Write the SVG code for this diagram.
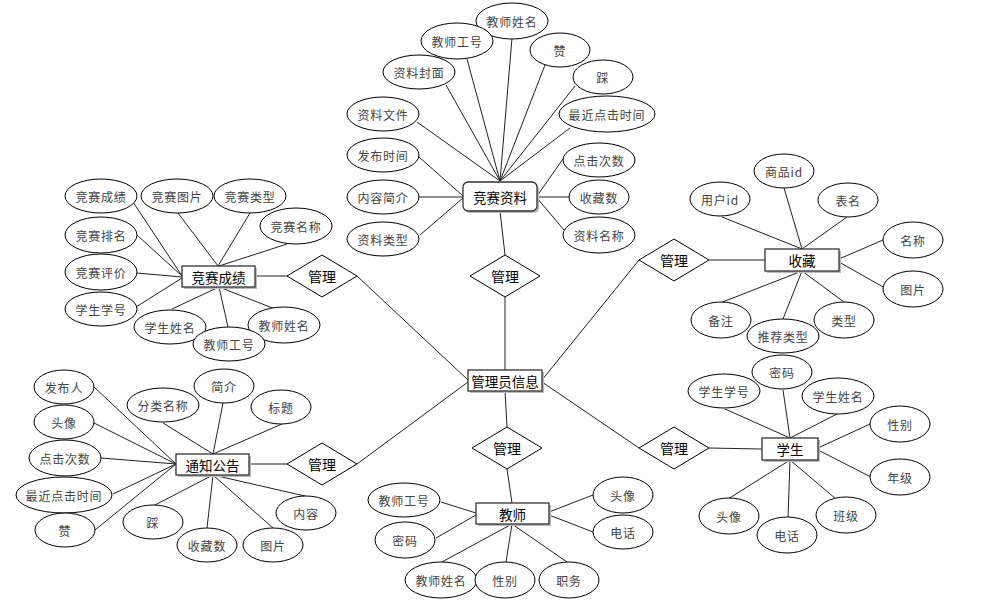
<svg xmlns="http://www.w3.org/2000/svg" width="982" height="606" viewBox="0 0 982 606">
<style>
.a{fill:#fff;stroke:#000;stroke-width:1}
.e{fill:#fff;stroke:#333;stroke-width:1.3}
.sh{fill:#bbb}
.r{fill:#fff;stroke:#000;stroke-width:1}
.t{font-family:"Noto Sans CJK SC","Liberation Sans",sans-serif;font-size:12px;fill:#444;text-anchor:middle;dominant-baseline:central;letter-spacing:0.8px}
.te{font-family:"Noto Sans CJK SC","Liberation Sans",sans-serif;font-size:13.5px;fill:#000;text-anchor:middle;dominant-baseline:central}
.tr{font-family:"Noto Sans CJK SC","Liberation Sans",sans-serif;font-size:14px;fill:#000;text-anchor:middle;dominant-baseline:central}
.c line{stroke:#222;stroke-width:1}
</style>
<rect width="982" height="606" fill="#fff"/>
<g class="c" id="connectors">
<line x1="446" y1="85" x2="500" y2="181"/>
<line x1="467" y1="59" x2="500" y2="181"/>
<line x1="512" y1="38" x2="500" y2="181"/>
<line x1="545" y1="65" x2="500" y2="181"/>
<line x1="575" y1="86" x2="500" y2="181"/>
<line x1="570" y1="128" x2="500" y2="181"/>
<line x1="417" y1="122" x2="500" y2="181"/>
<line x1="419" y1="157" x2="463" y2="196"/>
<line x1="419" y1="197" x2="463" y2="197"/>
<line x1="420" y1="235" x2="463" y2="198"/>
<line x1="563" y1="159" x2="537" y2="196"/>
<line x1="569" y1="197" x2="537" y2="197"/>
<line x1="564" y1="230" x2="537" y2="198"/>
<line x1="500" y1="211" x2="505" y2="255"/>
<line x1="505" y1="297" x2="505" y2="370"/>
<line x1="357" y1="276" x2="468" y2="380"/>
<line x1="357" y1="464" x2="468" y2="382"/>
<line x1="505" y1="391" x2="507" y2="427"/>
<line x1="639" y1="260" x2="542" y2="380"/>
<line x1="639" y1="448" x2="542" y2="382"/>
<line x1="255" y1="276" x2="287" y2="276"/>
<line x1="133" y1="202" x2="182" y2="276"/>
<line x1="137" y1="235" x2="182" y2="276"/>
<line x1="137" y1="273" x2="182" y2="277"/>
<line x1="136" y1="307" x2="182" y2="278"/>
<line x1="178" y1="213" x2="218" y2="266"/>
<line x1="250" y1="213" x2="218" y2="266"/>
<line x1="287" y1="244" x2="219" y2="266"/>
<line x1="172" y1="309" x2="219" y2="287"/>
<line x1="228" y1="327" x2="219" y2="287"/>
<line x1="275" y1="309" x2="219" y2="287"/>
<line x1="249" y1="464" x2="287" y2="464"/>
<line x1="94" y1="387" x2="176" y2="464"/>
<line x1="94" y1="423" x2="176" y2="464"/>
<line x1="101" y1="458" x2="176" y2="464"/>
<line x1="113" y1="494" x2="176" y2="464"/>
<line x1="95" y1="530" x2="176" y2="464"/>
<line x1="163" y1="423" x2="213" y2="454"/>
<line x1="223" y1="403" x2="213" y2="454"/>
<line x1="282" y1="424" x2="213" y2="454"/>
<line x1="153" y1="506" x2="213" y2="475"/>
<line x1="207" y1="528" x2="213" y2="475"/>
<line x1="273" y1="528" x2="213" y2="475"/>
<line x1="305" y1="496" x2="213" y2="475"/>
<line x1="507" y1="469" x2="512" y2="503"/>
<line x1="441" y1="502" x2="476" y2="513"/>
<line x1="436" y1="538" x2="476" y2="515"/>
<line x1="593" y1="495" x2="549" y2="512"/>
<line x1="593" y1="532" x2="549" y2="515"/>
<line x1="442" y1="562" x2="512" y2="524"/>
<line x1="506" y1="562" x2="512" y2="524"/>
<line x1="567" y1="562" x2="512" y2="524"/>
<line x1="709" y1="260" x2="765" y2="260"/>
<line x1="722" y1="217" x2="802" y2="249"/>
<line x1="784" y1="188" x2="802" y2="249"/>
<line x1="847" y1="217" x2="802" y2="249"/>
<line x1="883" y1="240" x2="839" y2="259"/>
<line x1="885" y1="288" x2="839" y2="262"/>
<line x1="720" y1="303" x2="802" y2="271"/>
<line x1="783" y1="319" x2="802" y2="271"/>
<line x1="844" y1="302" x2="802" y2="271"/>
<line x1="709" y1="448" x2="762" y2="449"/>
<line x1="725" y1="409" x2="790" y2="438"/>
<line x1="783" y1="390" x2="790" y2="438"/>
<line x1="837" y1="414" x2="790" y2="438"/>
<line x1="870" y1="424" x2="818" y2="448"/>
<line x1="871" y1="477" x2="818" y2="450"/>
<line x1="728" y1="499" x2="790" y2="460"/>
<line x1="788" y1="518" x2="790" y2="460"/>
<line x1="836" y1="499" x2="790" y2="460"/>
</g>

<g id="jszl">
<rect x="465" y="184" width="74" height="29" rx="5" class="sh"/>
<rect x="463" y="182" width="74" height="29" rx="5" class="e"/>
<text x="500" y="197" class="te">竞赛资料</text>
</g>
<g id="jszl-attrs">
<g id="jszl-jsxm"><ellipse cx="512" cy="21" rx="36" ry="18" class="a"/><text x="512" y="21" class="t">教师姓名</text></g>
<g id="jszl-jsgh"><ellipse cx="457" cy="41" rx="36" ry="18" class="a"/><text x="457" y="41" class="t">教师工号</text></g>
<g id="jszl-zan"><ellipse cx="560" cy="50" rx="30" ry="17" class="a"/><text x="560" y="50" class="t">赞</text></g>
<g id="jszl-zlfm"><ellipse cx="419" cy="72" rx="36" ry="17" class="a"/><text x="419" y="72" class="t">资料封面</text></g>
<g id="jszl-cai"><ellipse cx="603" cy="77" rx="30" ry="17" class="a"/><text x="603" y="77" class="t">踩</text></g>
<g id="jszl-zlwj"><ellipse cx="383" cy="114" rx="36" ry="17" class="a"/><text x="383" y="114" class="t">资料文件</text></g>
<g id="jszl-zjdj"><ellipse cx="607" cy="114" rx="48" ry="18" class="a"/><text x="607" y="114" class="t">最近点击时间</text></g>
<g id="jszl-fbsj"><ellipse cx="383" cy="155" rx="36" ry="17" class="a"/><text x="383" y="155" class="t">发布时间</text></g>
<g id="jszl-djcs"><ellipse cx="599" cy="160" rx="36" ry="17" class="a"/><text x="599" y="160" class="t">点击次数</text></g>
<g id="jszl-nrjj"><ellipse cx="383" cy="197" rx="36" ry="17" class="a"/><text x="383" y="197" class="t">内容简介</text></g>
<g id="jszl-scs"><ellipse cx="599" cy="197" rx="30" ry="17" class="a"/><text x="599" y="197" class="t">收藏数</text></g>
<g id="jszl-zllx"><ellipse cx="383" cy="239" rx="36" ry="17" class="a"/><text x="383" y="239" class="t">资料类型</text></g>
<g id="jszl-zlmc"><ellipse cx="599" cy="235" rx="36" ry="18" class="a"/><text x="599" y="235" class="t">资料名称</text></g>
</g>

<g id="rel-top"><polygon points="470,276 505,255 540,276 505,297" class="r"/><text x="505" y="276" class="tr">管理</text></g>
<g id="rel-left-top"><polygon points="287,276 322,255 357,276 322,297" class="r"/><text x="322" y="276" class="tr">管理</text></g>
<g id="rel-left-bottom"><polygon points="287,464 322,443 357,464 322,485" class="r"/><text x="322" y="464" class="tr">管理</text></g>
<g id="rel-bottom"><polygon points="472,448 507,427 542,448 507,469" class="r"/><text x="507" y="448" class="tr">管理</text></g>
<g id="rel-right-top"><polygon points="639,260 674,239 709,260 674,281" class="r"/><text x="674" y="260" class="tr">管理</text></g>
<g id="rel-right-bottom"><polygon points="639,448 674,427 709,448 674,469" class="r"/><text x="674" y="448" class="tr">管理</text></g>

<g id="admin">
<rect x="470" y="372" width="74" height="21" class="sh"/>
<rect x="468" y="370" width="74" height="21" class="e"/>
<text x="505" y="380.5" class="te">管理员信息</text>
</g>

<g id="jscj">
<rect x="184" y="268" width="73" height="21" class="sh"/>
<rect x="182" y="266" width="73" height="21" class="e"/>
<text x="218.5" y="276.5" class="te">竞赛成绩</text>
</g>
<g id="jscj-attrs">
<g id="jscj-cj"><ellipse cx="101" cy="196" rx="36" ry="17" class="a"/><text x="101" y="196" class="t">竞赛成绩</text></g>
<g id="jscj-tp"><ellipse cx="177" cy="196" rx="36" ry="17" class="a"/><text x="177" y="196" class="t">竞赛图片</text></g>
<g id="jscj-lx"><ellipse cx="250" cy="196" rx="36" ry="17" class="a"/><text x="250" y="196" class="t">竞赛类型</text></g>
<g id="jscj-mc"><ellipse cx="296" cy="226" rx="36" ry="18" class="a"/><text x="296" y="226" class="t">竞赛名称</text></g>
<g id="jscj-pm"><ellipse cx="101" cy="235" rx="36" ry="18" class="a"/><text x="101" y="235" class="t">竞赛排名</text></g>
<g id="jscj-pj"><ellipse cx="101" cy="272" rx="36" ry="18" class="a"/><text x="101" y="272" class="t">竞赛评价</text></g>
<g id="jscj-xh"><ellipse cx="101" cy="309" rx="36" ry="17" class="a"/><text x="101" y="309" class="t">学生学号</text></g>
<g id="jscj-xm"><ellipse cx="170" cy="327" rx="36" ry="17" class="a"/><text x="170" y="327" class="t">学生姓名</text></g>
<g id="jscj-jsxm"><ellipse cx="284" cy="325" rx="36" ry="18" class="a"/><text x="284" y="325" class="t">教师姓名</text></g>
<g id="jscj-jsgh"><ellipse cx="229" cy="344" rx="36" ry="17" class="a"/><text x="229" y="344" class="t">教师工号</text></g>
</g>

<g id="tzgg">
<rect x="178" y="456" width="73" height="21" class="sh"/>
<rect x="176" y="454" width="73" height="21" class="e"/>
<text x="212.5" y="464.5" class="te">通知公告</text>
</g>
<g id="tzgg-attrs">
<g id="tzgg-fbr"><ellipse cx="64" cy="387" rx="30" ry="17" class="a"/><text x="64" y="387" class="t">发布人</text></g>
<g id="tzgg-tx"><ellipse cx="64" cy="422" rx="30" ry="17" class="a"/><text x="64" y="422" class="t">头像</text></g>
<g id="tzgg-djcs"><ellipse cx="65" cy="458" rx="36" ry="18" class="a"/><text x="65" y="458" class="t">点击次数</text></g>
<g id="tzgg-zjdj"><ellipse cx="64" cy="495" rx="48" ry="18" class="a"/><text x="64" y="495" class="t">最近点击时间</text></g>
<g id="tzgg-zan"><ellipse cx="65" cy="530" rx="30" ry="17" class="a"/><text x="65" y="530" class="t">赞</text></g>
<g id="tzgg-flmc"><ellipse cx="163" cy="405" rx="36" ry="17" class="a"/><text x="163" y="405" class="t">分类名称</text></g>
<g id="tzgg-jj"><ellipse cx="224" cy="386" rx="30" ry="17" class="a"/><text x="224" y="386" class="t">简介</text></g>
<g id="tzgg-bt"><ellipse cx="281" cy="407" rx="30" ry="17" class="a"/><text x="281" y="407" class="t">标题</text></g>
<g id="tzgg-cai"><ellipse cx="153" cy="522" rx="30" ry="17" class="a"/><text x="153" y="522" class="t">踩</text></g>
<g id="tzgg-nr"><ellipse cx="306" cy="513" rx="30" ry="17" class="a"/><text x="306" y="513" class="t">内容</text></g>
<g id="tzgg-scs"><ellipse cx="207" cy="545" rx="30" ry="17" class="a"/><text x="207" y="545" class="t">收藏数</text></g>
<g id="tzgg-tp"><ellipse cx="273" cy="545" rx="30" ry="17" class="a"/><text x="273" y="545" class="t">图片</text></g>
</g>

<g id="teacher">
<rect x="478" y="505" width="73" height="21" class="sh"/>
<rect x="476" y="503" width="73" height="21" class="e"/>
<text x="512.5" y="513.5" class="te">教师</text>
</g>
<g id="teacher-attrs">
<g id="t-jsgh"><ellipse cx="404" cy="500" rx="36" ry="17" class="a"/><text x="404" y="500" class="t">教师工号</text></g>
<g id="t-mm"><ellipse cx="405" cy="540" rx="30" ry="18" class="a"/><text x="405" y="540" class="t">密码</text></g>
<g id="t-tx"><ellipse cx="623" cy="495" rx="30" ry="18" class="a"/><text x="623" y="495" class="t">头像</text></g>
<g id="t-dh"><ellipse cx="623" cy="532" rx="30" ry="17" class="a"/><text x="623" y="532" class="t">电话</text></g>
<g id="t-jsxm"><ellipse cx="441" cy="580" rx="36" ry="18" class="a"/><text x="441" y="580" class="t">教师姓名</text></g>
<g id="t-xb"><ellipse cx="505" cy="580" rx="30" ry="18" class="a"/><text x="505" y="580" class="t">性别</text></g>
<g id="t-zw"><ellipse cx="569" cy="580" rx="30" ry="18" class="a"/><text x="569" y="580" class="t">职务</text></g>
</g>

<g id="fav">
<rect x="767" y="251" width="74" height="22" class="sh"/>
<rect x="765" y="249" width="74" height="22" class="e"/>
<text x="802" y="260" class="te">收藏</text>
</g>
<g id="fav-attrs">
<g id="f-spid"><ellipse cx="784" cy="171" rx="30" ry="17" class="a"/><text x="784" y="171" class="t">商品id</text></g>
<g id="f-yhid"><ellipse cx="720" cy="199" rx="30" ry="17" class="a"/><text x="720" y="199" class="t">用户id</text></g>
<g id="f-bm"><ellipse cx="848" cy="200" rx="30" ry="17" class="a"/><text x="848" y="200" class="t">表名</text></g>
<g id="f-mc"><ellipse cx="913" cy="240" rx="30" ry="18" class="a"/><text x="913" y="240" class="t">名称</text></g>
<g id="f-tp"><ellipse cx="913" cy="289" rx="30" ry="18" class="a"/><text x="913" y="289" class="t">图片</text></g>
<g id="f-bz"><ellipse cx="721" cy="320" rx="30" ry="18" class="a"/><text x="721" y="320" class="t">备注</text></g>
<g id="f-lx"><ellipse cx="844" cy="320" rx="30" ry="18" class="a"/><text x="844" y="320" class="t">类型</text></g>
<g id="f-tjlx"><ellipse cx="783" cy="336" rx="36" ry="17" class="a"/><text x="783" y="336" class="t">推荐类型</text></g>
</g>

<g id="student">
<rect x="764" y="440" width="56" height="22" class="sh"/>
<rect x="762" y="438" width="56" height="22" class="e"/>
<text x="790" y="449" class="te">学生</text>
</g>
<g id="student-attrs">
<g id="s-mm"><ellipse cx="782" cy="372" rx="30" ry="17" class="a"/><text x="782" y="372" class="t">密码</text></g>
<g id="s-xh"><ellipse cx="724" cy="391" rx="36" ry="17" class="a"/><text x="724" y="391" class="t">学生学号</text></g>
<g id="s-xm"><ellipse cx="838" cy="396" rx="36" ry="18" class="a"/><text x="838" y="396" class="t">学生姓名</text></g>
<g id="s-xb"><ellipse cx="900" cy="424" rx="30" ry="18" class="a"/><text x="900" y="424" class="t">性别</text></g>
<g id="s-nj"><ellipse cx="900" cy="477" rx="30" ry="18" class="a"/><text x="900" y="477" class="t">年级</text></g>
<g id="s-tx"><ellipse cx="729" cy="516" rx="30" ry="18" class="a"/><text x="729" y="516" class="t">头像</text></g>
<g id="s-bj"><ellipse cx="846" cy="515" rx="30" ry="18" class="a"/><text x="846" y="515" class="t">班级</text></g>
<g id="s-dh"><ellipse cx="787" cy="535" rx="30" ry="18" class="a"/><text x="787" y="535" class="t">电话</text></g>
</g>
</svg>
